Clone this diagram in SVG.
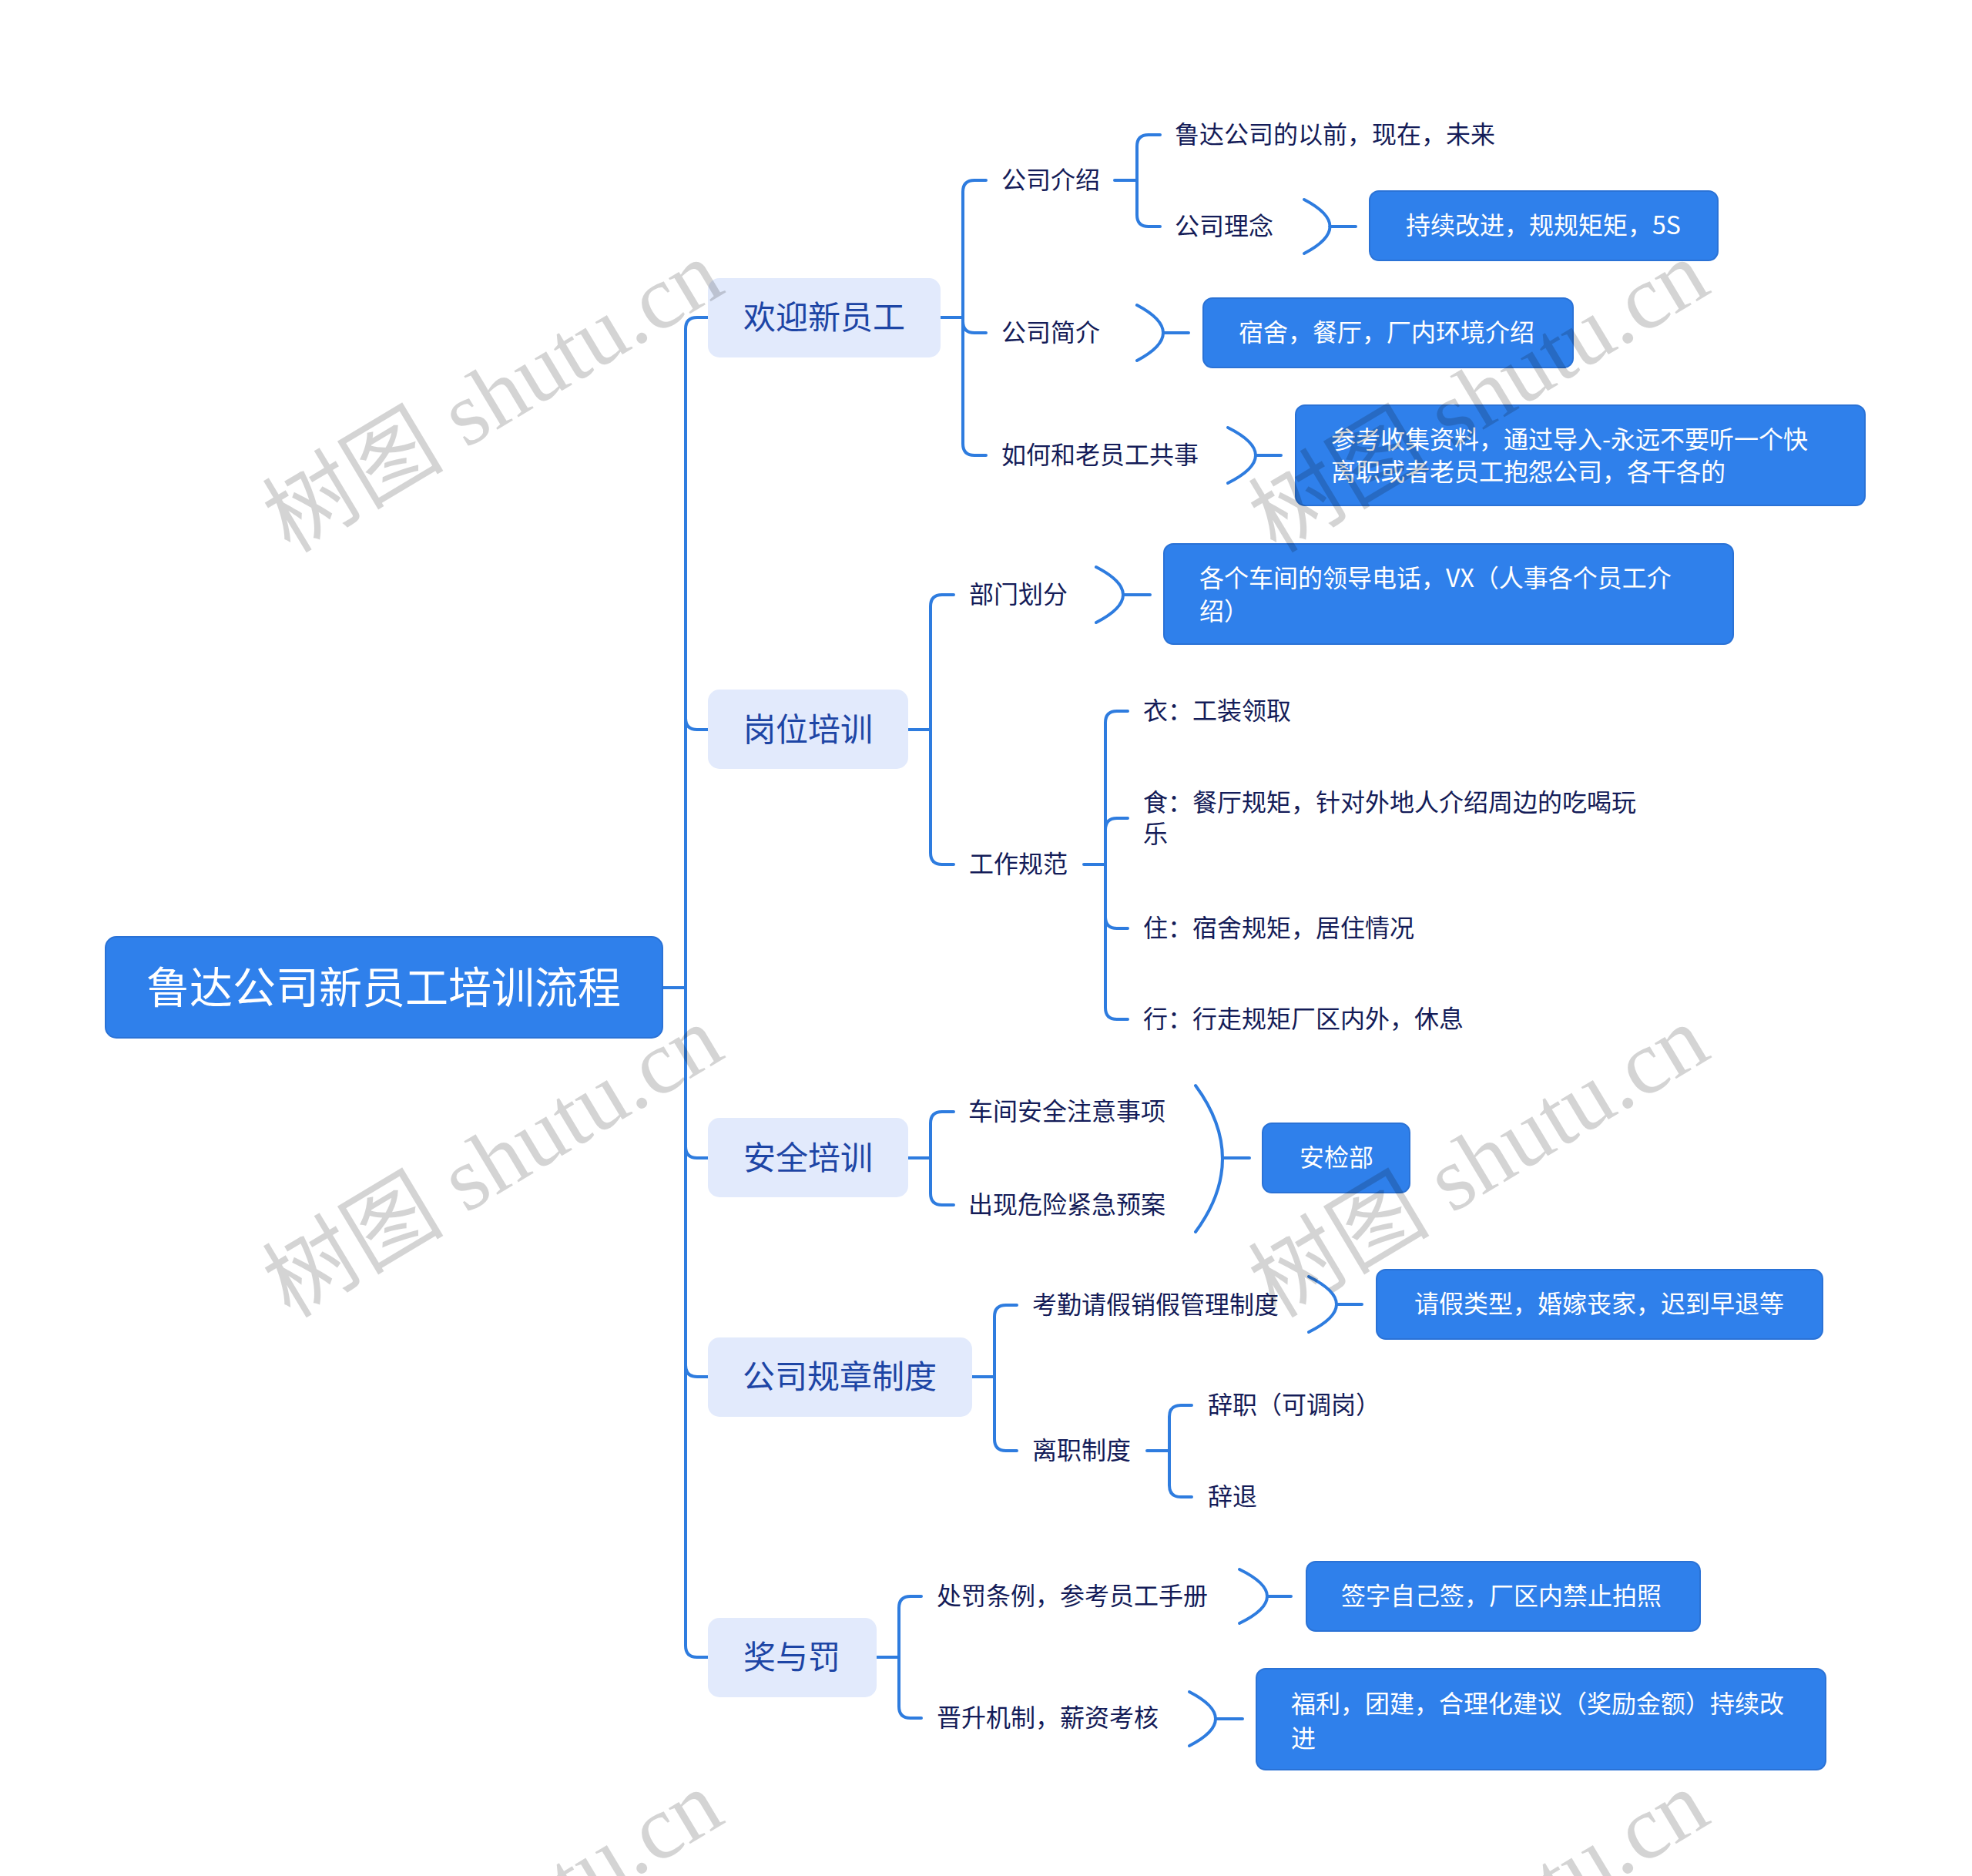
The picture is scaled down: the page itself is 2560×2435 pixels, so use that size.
<svg xmlns="http://www.w3.org/2000/svg" width="2560" height="2435" viewBox="0 0 2560 2435">
<style>
text{font-family:"Noto Sans CJK SC","Noto Sans",sans-serif;dominant-baseline:central}
.c{fill:none;stroke:#2E7CDF;stroke-width:4;stroke-linecap:round}
.root{fill:#2F80EB;stroke:#2A72D6;stroke-width:2}
.l1{fill:#E2EAFC}
.box{fill:#2F80EB;stroke:#2A72D6;stroke-width:2}
.tr{fill:#fff;font-size:56px;transform:translateY(-5px)}
.t1{fill:#1D45A5;font-size:42px;text-anchor:middle;transform:translateY(-4px)}
.t2{fill:#141C58;font-size:32px;transform:translateY(-3px)}
.tb{fill:#fff;font-size:32px;transform:translateY(-3px)}
.wm{font-family:"Liberation Serif","Noto Sans CJK SC",serif;font-size:118px;fill:#000;fill-opacity:0.17;text-anchor:middle;dominant-baseline:central}
</style>
<rect width="2560" height="2435" fill="#fff"/>
<g id="connectors">
<path class="c" d="M860 1282H890M890 1282V427Q890 412 905 412H919M890 1282V932Q890 947 905 947H919M890 1282V1488Q890 1503 905 1503H919M890 1282V1772Q890 1787 905 1787H919M890 1282V2136Q890 2151 905 2151H919"/>
<path class="c" d="M1221 412H1250M1250 412V249Q1250 234 1265 234H1280M1250 412V417Q1250 432 1265 432H1280M1250 412V576Q1250 591 1265 591H1280"/>
<path class="c" d="M1447 234H1476M1476 234V190Q1476 175 1491 175H1506M1476 234V279Q1476 294 1491 294H1506"/>
<path class="c" d="M1693 259Q1760 294 1693 329M1726 294H1760"/>
<path class="c" d="M1476 396Q1544 432 1476 468M1510 432H1543"/>
<path class="c" d="M1594 555Q1666 591 1594 627M1630 591H1663"/>
<path class="c" d="M1179 947H1208M1208 947V787Q1208 772 1223 772H1238M1208 947V1107Q1208 1122 1223 1122H1238"/>
<path class="c" d="M1423 736Q1493 772 1423 808M1458 772H1493"/>
<path class="c" d="M1407 1122H1435M1435 1122V938Q1435 923 1450 923H1464M1435 1122V1077Q1435 1062 1450 1062H1464M1435 1122V1190Q1435 1205 1450 1205H1464M1435 1122V1308Q1435 1323 1450 1323H1464"/>
<path class="c" d="M1179 1503H1208M1208 1503V1458Q1208 1443 1223 1443H1238M1208 1503V1549Q1208 1564 1223 1564H1238"/>
<path class="c" d="M1552 1409Q1622 1504 1552 1599M1587 1503H1622"/>
<path class="c" d="M1262 1787H1291M1291 1787V1709Q1291 1694 1306 1694H1320M1291 1787V1868Q1291 1883 1306 1883H1320"/>
<path class="c" d="M1699 1657Q1771 1693 1699 1729M1735 1693H1768"/>
<path class="c" d="M1489 1883H1518M1518 1883V1839Q1518 1824 1533 1824H1547M1518 1883V1928Q1518 1943 1533 1943H1547"/>
<path class="c" d="M1138 2151H1167M1167 2151V2087Q1167 2072 1182 2072H1196M1167 2151V2215Q1167 2230 1182 2230H1196"/>
<path class="c" d="M1609 2037Q1681 2072 1609 2107M1645 2072H1676"/>
<path class="c" d="M1544 2196Q1612 2231 1544 2266M1578 2231H1613"/>
</g>
<g id="root"><rect class="root" x="137" y="1216" width="723" height="131" rx="14"/><text class="tr" x="498" y="1282" text-anchor="middle">鲁达公司新员工培训流程</text></g>
<g id="n-welcome"><rect class="l1" x="919" y="361" width="302" height="103" rx="15"/><text class="t1" x="1070" y="412">欢迎新员工</text></g>
<g id="n-gwpx"><rect class="l1" x="919" y="895" width="260" height="103" rx="15"/><text class="t1" x="1049" y="947">岗位培训</text></g>
<g id="n-aqpx"><rect class="l1" x="919" y="1451" width="260" height="103" rx="15"/><text class="t1" x="1049" y="1503">安全培训</text></g>
<g id="n-gzzd"><rect class="l1" x="919" y="1736" width="343" height="103" rx="15"/><text class="t1" x="1090" y="1787">公司规章制度</text></g>
<g id="n-jyf"><rect class="l1" x="919" y="2100" width="219" height="103" rx="15"/><text class="t1" x="1028" y="2151">奖与罚</text></g>
<g id="n-gsjs"><text class="t2" x="1300" y="234">公司介绍</text></g>
<g id="n-yq"><text class="t2" x="1525" y="175">鲁达公司的以前，现在，未来</text></g>
<g id="n-gsln"><text class="t2" x="1525" y="294">公司理念</text></g>
<g id="n-gsln-b"><rect class="box" x="1778" y="248" width="452" height="90" rx="12"/><text class="tb" x="1825" y="293">持续改进，规规矩矩，5S</text></g>
<g id="n-gsjj"><text class="t2" x="1300" y="432">公司简介</text></g>
<g id="n-gsjj-b"><rect class="box" x="1562" y="387" width="480" height="90" rx="12"/><text class="tb" x="1608" y="432">宿舍，餐厅，厂内环境介绍</text></g>
<g id="n-lyg"><text class="t2" x="1300" y="591">如何和老员工共事</text></g>
<g id="n-lyg-b"><rect class="box" x="1682" y="526" width="739" height="130" rx="12"/><text class="tb" x="1728" y="571">参考收集资料，通过导入-永远不要听一个快</text><text class="tb" x="1728" y="613">离职或者老员工抱怨公司，各干各的</text></g>
<g id="n-bmhf"><text class="t2" x="1258" y="772">部门划分</text></g>
<g id="n-bmhf-b"><rect class="box" x="1511" y="706" width="739" height="130" rx="12"/><text class="tb" x="1557" y="751">各个车间的领导电话，VX（人事各个员工介</text><text class="tb" x="1557" y="794">绍）</text></g>
<g id="n-gzgf"><text class="t2" x="1258" y="1122">工作规范</text></g>
<g id="n-yi"><text class="t2" x="1484" y="923">衣：工装领取</text></g>
<g id="n-shi"><text class="t2" x="1484" y="1042">食：餐厅规矩，针对外地人介绍周边的吃喝玩</text><text class="t2" x="1484" y="1083">乐</text></g>
<g id="n-zhu"><text class="t2" x="1484" y="1205">住：宿舍规矩，居住情况</text></g>
<g id="n-xing"><text class="t2" x="1484" y="1323">行：行走规矩厂区内外，休息</text></g>
<g id="n-cj"><text class="t2" x="1257" y="1443">车间安全注意事项</text></g>
<g id="n-cx"><text class="t2" x="1257" y="1564">出现危险紧急预案</text></g>
<g id="n-ajb"><rect class="box" x="1639" y="1458" width="191" height="90" rx="12"/><text class="tb" x="1735" y="1503" text-anchor="middle">安检部</text></g>
<g id="n-kq"><text class="t2" x="1340" y="1694">考勤请假销假管理制度</text></g>
<g id="n-kq-b"><rect class="box" x="1787" y="1648" width="579" height="90" rx="12"/><text class="tb" x="1836" y="1693">请假类型，婚嫁丧家，迟到早退等</text></g>
<g id="n-lz"><text class="t2" x="1340" y="1883">离职制度</text></g>
<g id="n-cz"><text class="t2" x="1568" y="1824">辞职（可调岗）</text></g>
<g id="n-ct"><text class="t2" x="1568" y="1943">辞退</text></g>
<g id="n-cf"><text class="t2" x="1216" y="2072">处罚条例，参考员工手册</text></g>
<g id="n-cf-b"><rect class="box" x="1696" y="2027" width="511" height="90" rx="12"/><text class="tb" x="1741" y="2072">签字自己签，厂区内禁止拍照</text></g>
<g id="n-js"><text class="t2" x="1216" y="2230">晋升机制，薪资考核</text></g>
<g id="n-js-b"><rect class="box" x="1631" y="2166" width="739" height="131" rx="12"/><text class="tb" x="1676" y="2212">福利，团建，合理化建议（奖励金额）持续改</text><text class="tb" x="1676" y="2257">进</text></g>
<g id="watermarks">
<text class="wm" transform="translate(640 515) rotate(-31)">树图 shutu.cn</text>
<text class="wm" transform="translate(640 1508) rotate(-31)">树图 shutu.cn</text>
<text class="wm" transform="translate(1920 515) rotate(-31)">树图 shutu.cn</text>
<text class="wm" transform="translate(1920 1508) rotate(-31)">树图 shutu.cn</text>
<text class="wm" transform="translate(640 2501) rotate(-31)">树图 shutu.cn</text>
<text class="wm" transform="translate(1920 2501) rotate(-31)">树图 shutu.cn</text>
</g>
</svg>
